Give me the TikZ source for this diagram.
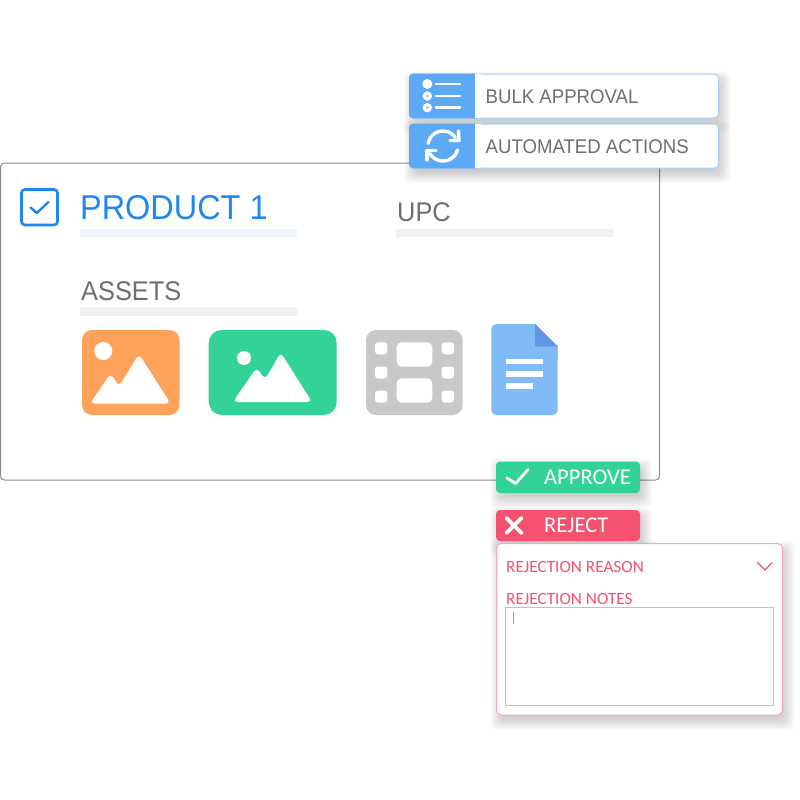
\documentclass[tikz,border=0pt]{standalone}
\usepackage{fontspec}
\setmainfont[FakeStretch=0.94]{Liberation Sans}
\newfontfamily\notefont{Carlito}
\definecolor{tileblue}{HTML}{5CA9F5}
\definecolor{rowedge}{HTML}{A5CFFA}
\definecolor{prodblue}{HTML}{1E88F0}
\definecolor{labelgray}{HTML}{6E6E6E}
\definecolor{bargray}{HTML}{F0F0F0}
\definecolor{barblue}{HTML}{EEF5FD}
\definecolor{okgreen}{HTML}{33D296}
\definecolor{rejred}{HTML}{F4526F}
\definecolor{rejedge}{HTML}{FBA6B6}
\definecolor{tileorange}{HTML}{FFA25C}
\definecolor{filmgray}{HTML}{C8C8C8}
\definecolor{docblue}{HTML}{80BAF7}
\definecolor{docfold}{HTML}{5F96E6}
\tikzset{
  rowlabel/.style={anchor=base west,inner sep=0pt,text=labelgray,font=\fontsize{19.8}{24}\selectfont},
  headlabel/.style={anchor=base west,inner sep=0pt,text=labelgray,font=\fontsize{27}{32}\selectfont},
  btnlabel/.style={anchor=base west,inner sep=0pt,text=white,font=\notefont\fontsize{22.5}{26}\selectfont},
  notelabel/.style={anchor=base west,inner sep=0pt,text=rejred,font=\notefont\fontsize{17.2}{21}\selectfont},
  whiteline/.style={white,line cap=round,line join=round},
}
% soft shadow under a box: corners x1,y1,x2,y2
\newcommand{\softshade}[4]{
    \foreach \s in {9,8,7,6,5,4,3,2,1,0,-1,-2,-3}
    \fill[black,opacity=0.014,rounded corners=6pt] (#1+3-\s,#2+6-\s) rectangle (#3+3+\s,#4+6+\s);
}
\begin{document}
\begin{tikzpicture}[x=1pt,y=-1pt]
    \useasboundingbox (0,0) rectangle (800,800);
    % main card
    \draw[fill=white,draw=gray!90,line width=1pt,rounded corners=4pt] (0.5,163) rectangle (659.5,480);
    \draw[prodblue,line width=2.6pt,rounded corners=3.5pt] (21.5,189.5) rectangle (57.5,225);
    \draw[prodblue,line width=2.4pt,line cap=round,line join=round] (30.5,207.5)--(36.8,213)--(48.5,202);
    \node[headlabel,text=prodblue,font=\fontsize{34.5}{40}\selectfont] (product) at (80,219) {PRODUCT 1};
    \node[headlabel] (upc) at (397,221.5) {UPC};
    \node[headlabel] (assets) at (81,300) {ASSETS};
    \fill[barblue] (80,229) rectangle (297,237);
    \fill[bargray] (396,229) rectangle (613,237);
    \fill[bargray] (80,307) rectangle (297,316);
    % image tiles
    \fill[tileorange,rounded corners=10pt] (82,330) rectangle (179.5,415);
    \fill[white] (103.3,351) circle(9);
    \fill[white,rounded corners=4.5pt] (90,403.5)--(110.7,373.5)--(119,386.5)--(139,354)--(170.5,403.5)--cycle;
    \fill[okgreen,rounded corners=13pt] (208.7,330) rectangle (336.7,415);
    \fill[white] (244,358) circle(7);
    \fill[white,rounded corners=4.5pt] (233,402)--(256.7,367.5)--(265,379.5)--(280.7,352.5)--(312,402)--cycle;
    % film tile
    \fill[filmgray,rounded corners=10pt] (366,330) rectangle (462.7,415);
    \foreach \x in {375,441.7}
    \foreach \y in {342.3,366.5,390.7}
    \fill[white,rounded corners=3pt] (\x,\y) rectangle (\x+12.3,\y+12);
    \foreach \y in {342.3,378.3}
    \fill[white,rounded corners=5pt] (396.7,\y) rectangle (432.3,\y+24.4);
    % document tile
    \fill[docblue,rounded corners=5pt] (535,324)--(491.3,324)--(491.3,415)--(557.7,415)--(557.7,346.7)--(557.7,346.7);
    \fill[docblue] (520,324)--(535,324)--(557.7,346.7)--(557.7,360)--(520,360)--cycle;
    \fill[docfold] (535,324)--(557.7,346.7)--(535,346.7)--cycle;
    \fill[white] (506,359) rectangle (543.3,364.3);
    \fill[white] (506,371) rectangle (543.3,376.7);
    \fill[white] (506,383.3) rectangle (533,389);
    % action rows
    \foreach \y in {74,124}{
    \softshade{409.5}{\y}{718.5}{\y+44}
    \draw[fill=white,draw=rowedge,line width=1pt,rounded corners=4pt] (409.5,\y) rectangle (718.5,\y+44);
    \fill[tileblue,rounded corners=4pt] (409,\y-0.3) rectangle (480,\y+44.3);
    \fill[white] (475,\y+0.3) rectangle (481,\y+43.7);
    }
    \node[rowlabel] (bulk) at (485.5,103) {BULK APPROVAL};
    \node[rowlabel] (auto) at (485.5,153) {AUTOMATED ACTIONS};
    % list icon
    \fill[white] (427.3,84) circle(5);
    \foreach \y in {96,107.7}{
    \fill[white] (427.3,\y) circle(4.7);
    \fill[tileblue] (427.3,\y) circle(1.2);
    }
    \foreach \y in {84,96,107.7}
    \draw[whiteline,line width=2.8pt] (436,\y)--(460,\y);
    % refresh icon
    \draw[whiteline,line width=3.4pt] (428.2,143.4) arc(190:325:15);
    \draw[whiteline,line width=3.4pt] (457.5,149.9) arc(15:150:15);
    \draw[whiteline,line width=3.4pt] (458.5,131)--(459,140.5)--(450,140.5);
    \draw[whiteline,line width=3.4pt] (427,160)--(427,150.5)--(436,150.5);
    % approve and reject
    \softshade{496}{461.5}{640}{493}
    \fill[okgreen,rounded corners=4pt] (496,461.5) rectangle (640,493);
    \draw[whiteline,line width=2.8pt] (507,478)--(515.7,483.5)--(528,469.5);
    \node[btnlabel] (approve) at (544,484) {APPROVE};
    \softshade{496}{510}{640}{541}
    \softshade{496.5}{543.5}{782.5}{715}
    \draw[fill=white,draw=rejedge,line width=1pt,rounded corners=5pt] (496.5,543.5) rectangle (782.5,715);
    \fill[rejred,rounded corners=4pt] (496,510) rectangle (640,541);
    \draw[whiteline,line width=3.6pt] (506.5,518)--(521.5,533);
    \draw[whiteline,line width=3.6pt] (521.5,518)--(506.5,533);
    \node[btnlabel] (reject) at (544,532.5) {REJECT};
    % rejection form
    \node[notelabel] (reason) at (506,572) {REJECTION REASON};
    \node[notelabel] (notes) at (506,604) {REJECTION NOTES};
    \draw[rejred,line width=1.2pt] (757.3,562.3)--(765,570)--(772.3,562.3);
    \draw[rejedge,line width=1pt] (505.5,607.5) rectangle (773,705);
    \draw[rejred!80,line width=0.6pt] (513.5,611.7)--(513.5,624);
\end{tikzpicture}
\end{document}
